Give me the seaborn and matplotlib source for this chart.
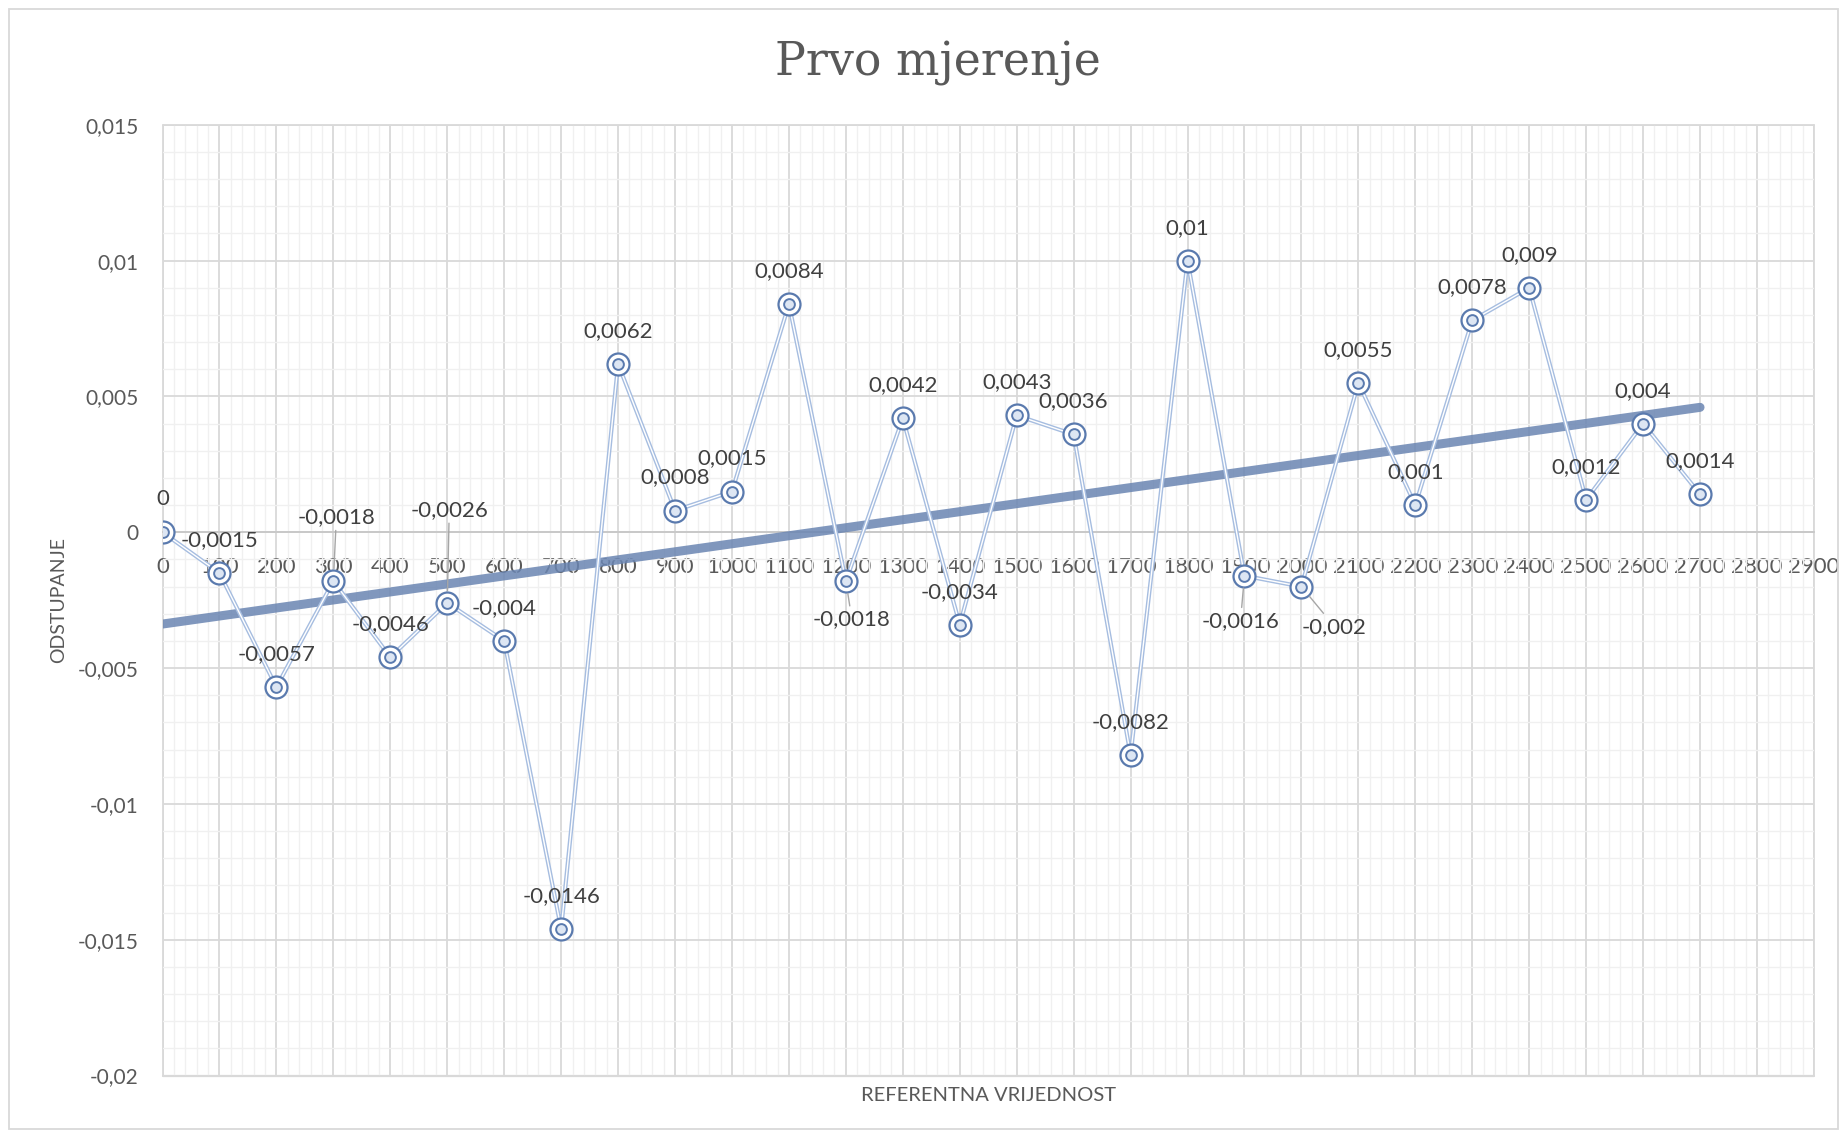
import numpy as np
import pandas as pd
import matplotlib
matplotlib.use("Agg")
import matplotlib.pyplot as plt
import seaborn as sns
from matplotlib.ticker import MultipleLocator, FuncFormatter
from matplotlib.patches import Rectangle

# ---------------- data ----------------
reference = [0, 100, 200, 300, 400, 500, 600, 700, 800, 900, 1000, 1100, 1200, 1300,
             1400, 1500, 1600, 1700, 1800, 1900, 2000, 2100, 2200, 2300, 2400, 2500,
             2600, 2700]
deviation = [0, -0.0015, -0.0057, -0.0018, -0.0046, -0.0026, -0.004, -0.0146, 0.0062,
             0.0008, 0.0015, 0.0084, -0.0018, 0.0042, -0.0034, 0.0043, 0.0036, -0.0082,
             0.01, -0.0016, -0.002, 0.0055, 0.001, 0.0078, 0.009, 0.0012, 0.004, 0.0014]
point_labels = ["0", "-0,0015", "-0,0057", "-0,0018", "-0,0046", "-0,0026", "-0,004",
                "-0,0146", "0,0062", "0,0008", "0,0015", "0,0084", "-0,0018", "0,0042",
                "-0,0034", "0,0043", "0,0036", "-0,0082", "0,01", "-0,0016", "-0,002",
                "0,0055", "0,001", "0,0078", "0,009", "0,0012", "0,004", "0,0014"]
title = "Prvo mjerenje"
x_title = "REFERENTNA VRIJEDNOST"
y_title = "ODSTUPANJE"

df = pd.DataFrame({"ref": reference, "dev": deviation})

# ---------------- style ----------------
sns.set_style("white")
plt.rcParams["font.family"] = ["Lato", "DejaVu Sans"]

TXT = "#595959"
LBL = "#404040"
RING = "#5a7aae"
LINE = "#a6bde0"
TREND = "#6a85b2"

fig = plt.figure(figsize=(18.47, 11.38), dpi=100)
ax = fig.add_axes([0.0880, 0.0549, 0.8941, 0.8354])

# trendline (linear regression)
sns.regplot(data=df, x="ref", y="dev", scatter=False, ci=None, truncate=True, ax=ax,
            line_kws=dict(color=TREND, lw=6.5, alpha=0.85, solid_capstyle="round", zorder=3))

# double ("compound") data line
sns.lineplot(data=df, x="ref", y="dev", ax=ax, color=LINE, lw=3.0, zorder=4,
             sort=False, estimator=None)
sns.lineplot(data=df, x="ref", y="dev", ax=ax, color="white", lw=1.0, zorder=5,
             sort=False, estimator=None)

# double-ring markers
sns.scatterplot(data=df, x="ref", y="dev", ax=ax, s=250, marker="o", facecolor="white",
                edgecolor=RING, linewidth=1.6, zorder=6)
sns.scatterplot(data=df, x="ref", y="dev", ax=ax, s=60, marker="o", facecolor="#dde6f3",
                edgecolor=RING, linewidth=1.4, zorder=7)

# data labels
default_off = (0, 33)
special_off = {3: (3, 64), 5: (2, 93), 12: (6, -38), 19: (-4, -45), 20: (33, -40)}
for i, (xv, yv, t) in enumerate(zip(reference, deviation, point_labels)):
    off = special_off.get(i, default_off)
    kw = {}
    if i in special_off:
        kw["arrowprops"] = dict(arrowstyle="-", color="#a6a6a6", lw=1.0,
                                shrinkA=0, shrinkB=9)
    ax.annotate(t, (xv, yv), xytext=off, textcoords="offset pixels",
                ha="center", va="center", fontsize=16, color=LBL, zorder=8, **kw)

# axes & grid
ax.set_xlim(0, 2900)
ax.set_ylim(-0.02, 0.015)
ax.xaxis.set_major_locator(MultipleLocator(100))
ax.xaxis.set_minor_locator(MultipleLocator(20))
ax.yaxis.set_major_locator(MultipleLocator(0.005))
ax.yaxis.set_minor_locator(MultipleLocator(0.001))
ax.grid(which="major", color="#d9d9d9", lw=1.3, zorder=0)
ax.grid(which="minor", color="#f0f0f0", lw=1.0, zorder=0)
ax.set_axisbelow(True)


def yfmt(v, pos):
    v = round(v, 4)
    if v == 0:
        return "0"
    return f"{v:g}".replace(".", ",")


ax.yaxis.set_major_formatter(FuncFormatter(yfmt))
ax.xaxis.set_major_formatter(FuncFormatter(lambda v, p: f"{int(round(v))}"))

for s in ["top", "right", "left"]:
    ax.spines[s].set_visible(False)
ax.spines["bottom"].set_position(("data", 0))
ax.spines["bottom"].set_color("#c8c8c8")
ax.spines["bottom"].set_linewidth(1.3)
ax.axhline(-0.02, color="#d9d9d9", lw=1.6, clip_on=False, zorder=0)
ax.axhline(0.015, color="#d9d9d9", lw=1.3, clip_on=False, zorder=0)
ax.axvline(0, color="#d9d9d9", lw=1.3, clip_on=False, zorder=0)
ax.axvline(2900, color="#d9d9d9", lw=1.3, clip_on=False, zorder=0)

ax.tick_params(axis="both", which="both", length=0)
ax.tick_params(axis="y", pad=17, labelsize=15, labelcolor=TXT)
ax.tick_params(axis="x", pad=18, labelsize=16, labelcolor=TXT)

ax.set_xlabel(x_title, fontsize=14.5, color=TXT)
ax.set_ylabel(y_title, fontsize=14, color=TXT)
ax.xaxis.set_label_coords(0.5, -0.012)
ax.yaxis.set_label_coords(-0.058, 0.5)

fig.text(0.508, 0.944, title, ha="center", va="center", fontsize=33, color=TXT,
         family=["DejaVu Serif"])

fig.patches.append(Rectangle((0.005, 0.008), 0.99, 0.984, transform=fig.transFigure,
                             fill=False, ec="#d9d9d9", lw=1.3))

fig.savefig("out.png", dpi=100)
